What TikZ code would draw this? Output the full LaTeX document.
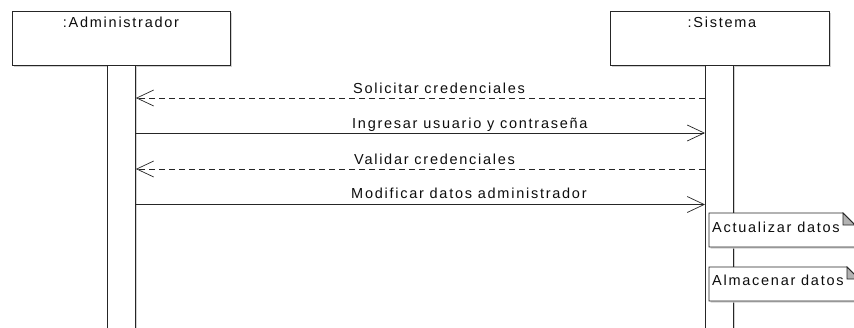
\documentclass[tikz,border=0pt]{standalone}
\usepackage{fontspec}
\setmainfont{Liberation Sans}[LetterSpace=12]
\usetikzlibrary{arrows.meta}
\tikzset{
  shadowed/.style={preaction={fill=black!18, transform canvas={shift={(1.6pt,-1.6pt)}}}},
  lifebox/.style={draw=black!85, line width=0.9pt, fill=white, shadowed, rectangle, inner sep=0pt, anchor=north west},
  actbar/.style={draw=black!85, line width=0.9pt, fill=white, shadowed, rectangle, inner sep=0pt, anchor=north west, minimum width=28pt, minimum height=275pt},
  txt/.style={inner sep=0pt, text=black!95, font=\fontsize{14.5}{17}\selectfont},
  msg/.style={draw=black!85, line width=0.8pt, -{Straight Barb[length=17pt,width=16pt,line width=0.7pt]}},
  reply/.style={msg, dash pattern=on 6pt off 4pt},
  notebody/.style={draw=black!85, line width=0.9pt, fill=white, shadowed},
  notefold/.style={draw=black!85, line width=0.8pt, fill=black!30}
}
\begin{document}
\begin{tikzpicture}[x=1pt,y=-1pt]
\useasboundingbox (0,0) rectangle (854,327);
\clip (0,0) rectangle (854,327);
\fill[white] (0,0) rectangle (854,327);

% lifeline heads
\node[lifebox, minimum width=218pt, minimum height=54pt] (admin) at (12,11) {};
\node[lifebox, minimum width=219pt, minimum height=54pt] (sist) at (610,11) {};
\node[txt, anchor=base] (adminlbl) at (121,27) {:Administrador};
\node[txt, anchor=base] (sistlbl) at (722,27) {:Sistema};

% activation bars
\node[actbar] (abar) at (107,65) {};
\node[actbar] (sbar) at (705,65) {};

% message end points
\coordinate (a1) at (abar.east |- 0,98);
\coordinate (s1) at (sbar.west |- 0,98);
\coordinate (a2) at (abar.east |- 0,133);
\coordinate (s2) at (sbar.west |- 0,133);
\coordinate (a3) at (abar.east |- 0,169);
\coordinate (s3) at (sbar.west |- 0,169);
\coordinate (a4) at (abar.east |- 0,204.5);
\coordinate (s4) at (sbar.west |- 0,204.5);

\draw[reply] (s1) -- (a1);
\draw[msg] (a2) -- (s2);
\draw[reply] (s3) -- (a3);
\draw[msg] (a4) -- (s4);

\node[txt, anchor=base west] (m1) at (353,93) {Solicitar credenciales};
\node[txt, anchor=base west] (m2) at (352,128) {Ingresar usuario y contraseña};
\node[txt, anchor=base west] (m3) at (354,164) {Validar credenciales};
\node[txt, anchor=base west] (m4) at (351,198) {Modificar datos administrador};

% notes
\path[notebody] (709,213) -- (843,213) -- (855,225) -- (855,247) -- (709,247) -- cycle;
\path[notefold] (843,213) -- (843,225) -- (855,225) -- cycle;
\node[txt, anchor=base west] (n1) at (712,232) {Actualizar datos};

\path[notebody] (709,267) -- (847,267) -- (859,279) -- (859,301) -- (709,301) -- cycle;
\path[notefold] (847,267) -- (847,279) -- (859,279) -- cycle;
\node[txt, anchor=base west] (n2) at (712,285) {Almacenar datos};
\end{tikzpicture}
\end{document}
